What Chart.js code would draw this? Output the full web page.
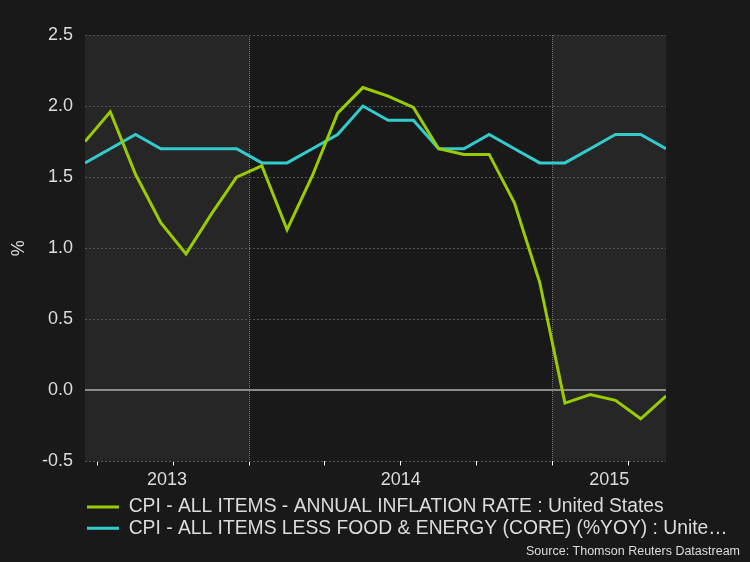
<!DOCTYPE html>
<html>
<head>
<meta charset="utf-8">
<script src="https://cdn.jsdelivr.net/npm/chart.js@4/dist/chart.umd.min.js"></script>
<style>
  html, body { margin: 0; padding: 0; background: #191919; }
  #wrap { width: 750px; height: 562px; position: relative; }
</style>
</head>
<body>
<div id="wrap"><canvas id="chart" width="750" height="562"></canvas></div>
<script>
// Monthly data, Jun 2013 - May 2015
const months = ['2013-06','2013-07','2013-08','2013-09','2013-10','2013-11','2013-12',
  '2014-01','2014-02','2014-03','2014-04','2014-05','2014-06','2014-07','2014-08','2014-09','2014-10','2014-11','2014-12',
  '2015-01','2015-02','2015-03','2015-04','2015-05'];
const cpiAll = [1.75, 1.96, 1.52, 1.18, 0.96, 1.24, 1.50, 1.58, 1.13, 1.51, 1.95, 2.13, 2.07, 1.99, 1.70, 1.66, 1.66, 1.32, 0.76, -0.09, -0.03, -0.07, -0.20, -0.04];
const cpiCore = [1.6, 1.7, 1.8, 1.7, 1.7, 1.7, 1.7, 1.6, 1.6, 1.7, 1.8, 2.0, 1.9, 1.9, 1.7, 1.7, 1.8, 1.7, 1.6, 1.6, 1.7, 1.8, 1.8, 1.7];
const seriesNames = ['CPI - ALL ITEMS - ANNUAL INFLATION RATE : United States',
  'CPI - ALL ITEMS LESS FOOD & ENERGY (CORE) (%YOY) : Unite\u2026'];
const quarterTicks = ['2013-07','2013-10','2014-01','2014-04','2014-07','2014-10','2015-01','2015-04'];
const years = ['2013', '2014', '2015'];
const yTicks = [-0.5, 0.0, 0.5, 1.0, 1.5, 2.0, 2.5];
const sourceText = 'Source: Thomson Reuters Datastream';

const FONT = '"Liberation Sans", Arial, sans-serif';
const TXT = '#dcdcdc';

// months since Jan 2013; mid-month for data points
function monthStart(s) {
    const [y, m] = s.split('-').map(Number);
    return (y - 2013) * 12 + (m - 1);
}
const xMin = monthStart(months[0]) + 0.5;
const xMax = monthStart(months[months.length - 1]) + 0.5;

const toPoints = vals => vals.map((v, i) => ({ x: monthStart(months[i]) + 0.5, y: v }));

// year label positions: centre of the visible part of each year
const yearCentres = years.map(yr => {
    const a = Math.max(xMin, (+yr - 2013) * 12);
    const b = Math.min(xMax, (+yr - 2012) * 12);
    return (a + b) / 2;
});

const bandsPlugin = {
    id: 'bands',
    afterLayout(chart) {
        // let the legend text run past the plot's right edge
        const lg = chart.legend;
        lg.right = chart.width;
        lg.width = lg.right - lg.left;
    },
    beforeDraw(chart) {
        const { ctx, chartArea: ca, scales: { x } } = chart;
        ctx.save();
        years.forEach((yr, i) => {
            if (i % 2 !== 0) return;
            const a = x.getPixelForValue(Math.max(xMin, (+yr - 2013) * 12));
            const b = x.getPixelForValue(Math.min(xMax, (+yr - 2012) * 12));
            ctx.fillStyle = '#262626';
            ctx.fillRect(a, ca.top, b - a, ca.bottom - ca.top);
        });
        ctx.restore();
    },
    afterDraw(chart) {
        const ctx = chart.ctx;
        ctx.save();
        ctx.font = '12.5px ' + FONT;
        ctx.fillStyle = TXT;
        ctx.textAlign = 'right';
        ctx.textBaseline = 'middle';
        ctx.fillText(sourceText, 740, 552);
        ctx.restore();
    }
};

new Chart(document.getElementById('chart'), {
    type: 'line',
    data: {
        datasets: [
            { label: seriesNames[0], data: toPoints(cpiAll), borderColor: '#99cc00', backgroundColor: '#99cc00', borderWidth: 3, pointRadius: 0, tension: 0 },
            { label: seriesNames[1], data: toPoints(cpiCore), borderColor: '#33cccc', backgroundColor: '#33cccc', borderWidth: 3, pointRadius: 0, tension: 0 }
        ]
    },
    options: {
        responsive: false,
        animation: false,
        layout: { padding: { left: 8, right: 84, top: 35, bottom: 14 } },
        plugins: {
            tooltip: { enabled: false },
            legend: {
                position: 'bottom',
                align: 'start',
                fullSize: false,
                labels: {
                    color: TXT,
                    font: { family: FONT, size: 19.3 },
                    boxWidth: 32,
                    boxHeight: 3,
                    padding: 2,
                    generateLabels: chart => Chart.defaults.plugins.legend.labels.generateLabels(chart)
                        .map(l => ({ ...l, lineWidth: 0 }))
                }
            }
        },
        scales: {
            x: {
                type: 'linear',
                min: xMin,
                max: xMax,
                afterBuildTicks: s => { s.ticks = quarterTicks.map(q => ({ value: monthStart(q) })); },
                afterFit: s => { s.height = 5; },
                ticks: { display: false },
                border: { display: false, dash: [1, 1] },
                grid: {
                    color: c => (c.tick && c.tick.value % 12 === 0) ? '#777777' : 'rgba(0,0,0,0)',
                    tickColor: '#ffffff',
                    tickLength: 4,
                    lineWidth: 1
                }
            },
            x2: {
                type: 'linear',
                position: 'bottom',
                min: xMin,
                max: xMax,
                afterBuildTicks: s => { s.ticks = yearCentres.map(v => ({ value: v })); },
                afterFit: s => { s.height = 29; },
                ticks: {
                    color: TXT,
                    font: { family: FONT, size: 18 },
                    padding: 3,
                    maxRotation: 0,
                    autoSkip: false,
                    callback: (v, i) => years[i]
                },
                border: { display: false },
                grid: { display: false, drawTicks: false }
            },
            y: {
                min: -0.5,
                max: 2.5,
                afterBuildTicks: s => { s.ticks = yTicks.map(v => ({ value: v })); },
                afterFit: s => { s.width = 77; },
                title: { display: true, text: '%', color: TXT, font: { family: FONT, size: 18 }, padding: 0 },
                ticks: {
                    color: TXT,
                    font: { family: FONT, size: 18 },
                    padding: 12,
                    callback: v => v.toFixed(1)
                },
                border: {
                    display: false,
                    dash: c => (c.tick && c.tick.value === 0) ? [] : [2, 2]
                },
                grid: {
                    drawTicks: false,
                    color: c => (c.tick && c.tick.value === 0) ? '#8a8a8a' : '#555555',
                    lineWidth: c => (c.tick && c.tick.value === 0) ? 2 : 1
                }
            }
        }
    },
    plugins: [bandsPlugin]
});
</script>
</body>
</html>
